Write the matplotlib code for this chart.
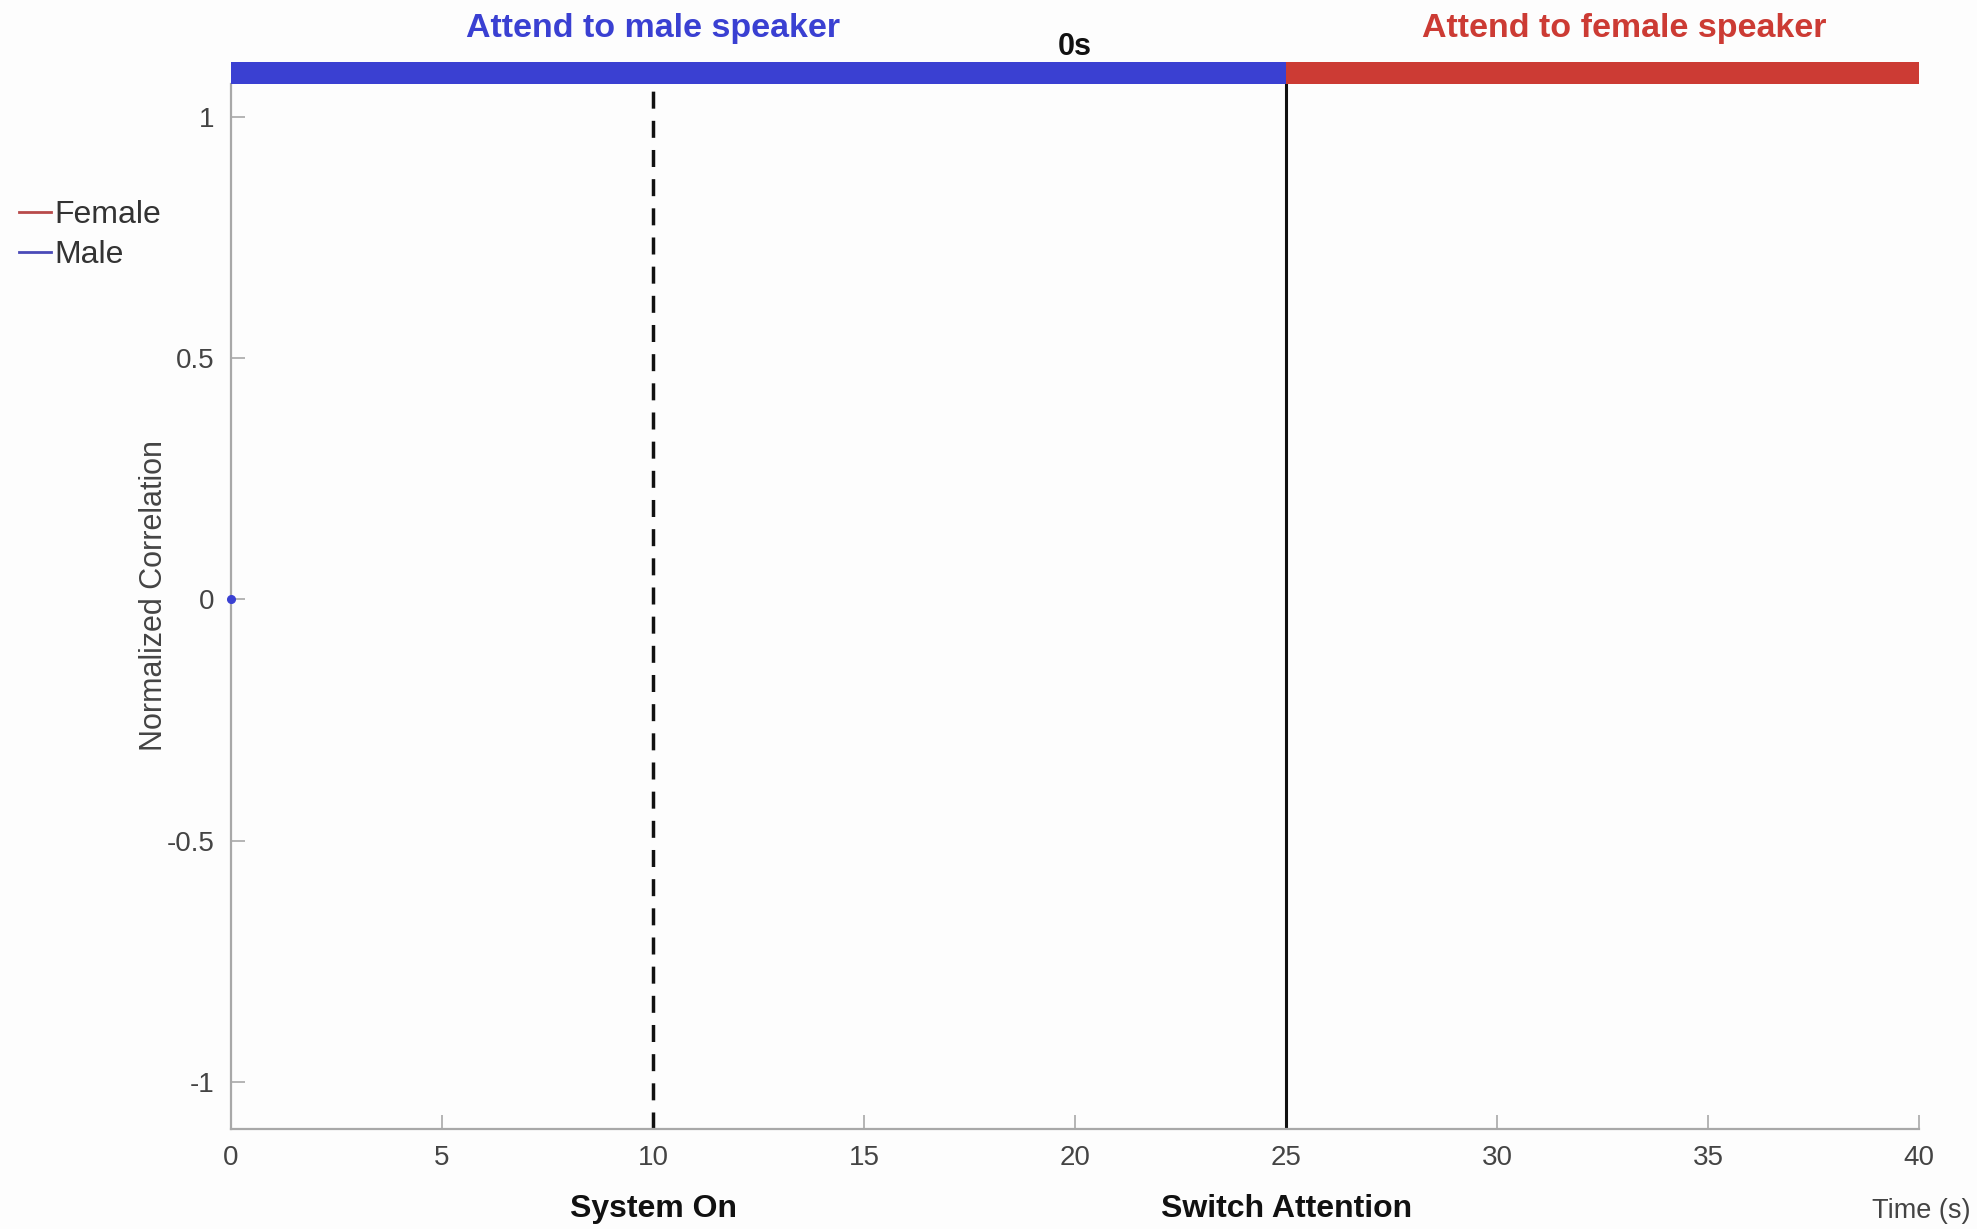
import matplotlib
matplotlib.use("Agg")
import matplotlib.pyplot as plt
from matplotlib.lines import Line2D

plt.rcParams['font.family'] = ['Liberation Sans', 'DejaVu Sans']

# Data
male_time = [0.0]
male_corr = [0.0]
female_time = []
female_corr = []

system_on_time = 10
switch_time = 25
x_end = 40

x_ticks = [0, 5, 10, 15, 20, 25, 30, 35, 40]
y_ticks = [-1, -0.5, 0, 0.5, 1]
y_tick_labels = ['-1', '-0.5', '0', '0.5', '1']

blue = '#3a40d2'
red = '#cc3b34'
axis_gray = '#a8a8a8'
text_gray = '#444444'

W, H = 1977, 1229
fig = plt.figure(figsize=(W / 100, H / 100), dpi=100, facecolor='#fdfdfd')
ax = fig.add_axes([0.1168, 0.0817, 0.854, 0.868])
ax.set_facecolor('#fdfdfd')

y_bottom, y_top = -1.0966, 1.114
bar_low = 1.068
ax.set_xlim(0, x_end)
ax.set_ylim(y_bottom, y_top)

# attention condition bar along the top
ax.fill_between([0, switch_time], bar_low, y_top, color=blue, lw=0, zorder=3)
ax.fill_between([switch_time, x_end], bar_low, y_top, color=red, lw=0, zorder=3)

# event markers
ax.plot([system_on_time, system_on_time], [y_bottom, bar_low], color='#111111',
        lw=2.5, dashes=(4.9, 3.5), zorder=2)
ax.plot([switch_time, switch_time], [y_bottom, bar_low], color='#111111',
        lw=2.2, zorder=2)

# correlation traces
ax.plot(female_time, female_corr, color=red, lw=2)
ax.plot(male_time, male_corr, color=blue, lw=2, marker='o', markersize=5.5,
        clip_on=False, zorder=5)

for side in ['top', 'right']:
    ax.spines[side].set_visible(False)
for side in ['left', 'bottom']:
    ax.spines[side].set_color(axis_gray)
    ax.spines[side].set_linewidth(1.6)
ax.spines['left'].set_bounds(y_bottom, bar_low)

ax.set_xticks(x_ticks)
ax.set_xticklabels([str(t) for t in x_ticks])
ax.set_yticks(y_ticks)
ax.set_yticklabels(y_tick_labels)
ax.tick_params(direction='in', length=10, width=1.2, color=axis_gray,
               labelcolor=text_gray, labelsize=20, pad=12)

ax.set_ylabel('Normalized Correlation', fontsize=22, color=text_gray)
ax.yaxis.set_label_coords(-0.0365, 0.5)


def fig_x(x_data):
    return ax.transData.transform((x_data, 0))[0] / fig.bbox.width


# condition titles
fig.text(fig_x(system_on_time), 1 - 29 / H, 'Attend to male speaker', color=blue,
         fontsize=24.5, fontweight='bold', ha='center', va='center')
fig.text(fig_x(33.0), 1 - 29 / H, 'Attend to female speaker', color=red,
         fontsize=24.5, fontweight='bold', ha='center', va='center')
fig.text(fig_x(20), 1 - 47 / H, '0s', color='#111111', fontsize=22,
         fontweight='bold', ha='center', va='center')

# event labels below the axis
fig.text(fig_x(system_on_time), 1 - 1209 / H, 'System On', color='#111111',
         fontsize=23, fontweight='bold', ha='center', va='center')
fig.text(fig_x(switch_time), 1 - 1209 / H, 'Switch Attention', color='#111111',
         fontsize=23, fontweight='bold', ha='center', va='center')
fig.text(1970 / W, 1 - 1211 / H, 'Time (s)', color=text_gray, fontsize=19.5,
         ha='right', va='center')

# legend
handles = [Line2D([], [], color='#b84a4a', lw=2),
           Line2D([], [], color='#4a4ab8', lw=2)]
fig.legend(handles, ['Female', 'Male'], loc='upper left',
           bbox_to_anchor=(0.0, 1 - 181 / H), frameon=False, fontsize=23,
           handlelength=1.0, handletextpad=0.1, labelspacing=0.32,
           borderaxespad=0.2, labelcolor='#333333')

fig.savefig('out.png', dpi=100, facecolor=fig.get_facecolor())
